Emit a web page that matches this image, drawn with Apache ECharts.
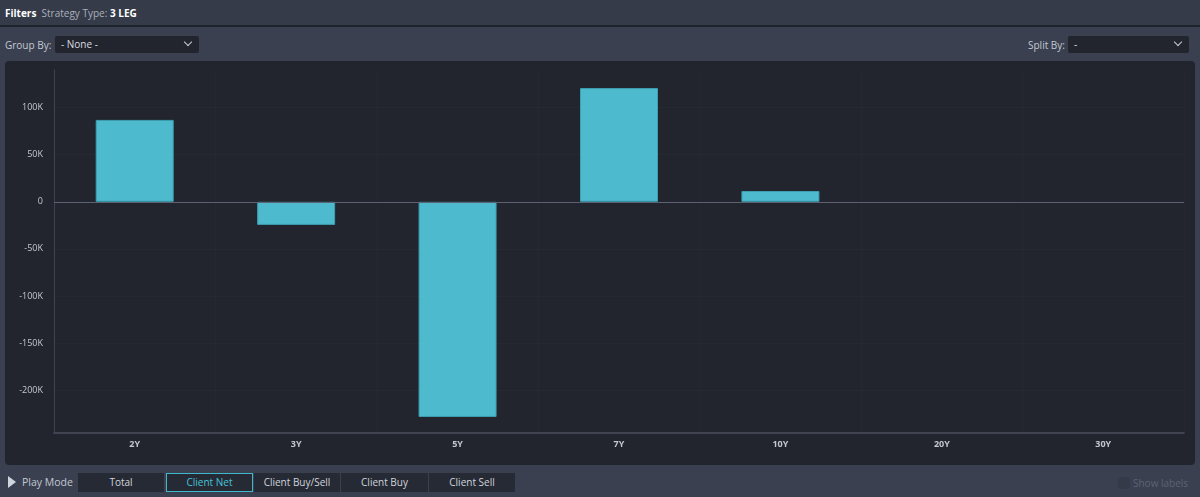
<!DOCTYPE html>
<html><head><meta charset="utf-8">
<script src="https://cdn.jsdelivr.net/npm/echarts@6/dist/echarts.min.js"></script>
<style>
html,body{margin:0;padding:0;width:1200px;height:497px;overflow:hidden;background:#3a4050;font-family:"Open Sans",sans-serif;}
.abs{position:absolute;}
#top{left:0;top:0;width:1200px;height:25px;background:#353b48;border-bottom:2px solid #1f232c;}
#panel{left:5px;top:61px;width:1190px;height:404px;background:#22252e;border-radius:4px;}
.dd{background:#22252e;border-radius:2px;height:17px;color:#d8dbe2;font-size:10px;line-height:17px;box-sizing:border-box;padding-left:6px;}
.chev{position:absolute;right:8px;top:3px;width:5px;height:5px;border-right:1.5px solid #c8ccd4;border-bottom:1.5px solid #c8ccd4;transform:rotate(45deg);}
.lbl{color:#c3c8d2;font-size:10px;}
.btn{top:473px;height:19px;background:#262a34;color:#d0d4dc;font-size:10px;line-height:19px;text-align:center;box-sizing:border-box;}
#chart{left:0;top:0;width:1200px;height:497px;}
</style></head>
<body>
<div id="top" class="abs"></div>
<div class="abs" style="left:5px;top:6px;font-size:10px;color:#fff;"><b>Filters</b> <span style="color:#aab0bc;">&nbsp;Strategy Type:</span> <b>3 LEG</b></div>
<div class="abs lbl" style="left:5px;top:38px;">Group By:</div>
<div class="abs dd" style="left:55px;top:36px;width:144px;">- None -<div class="chev"></div></div>
<div class="abs lbl" style="left:1028px;top:38px;">Split By:</div>
<div class="abs dd" style="left:1068px;top:36px;width:121px;">-<div class="chev"></div></div>
<div id="panel" class="abs"></div>
<div class="abs" style="left:8px;top:476px;width:0;height:0;border-top:6px solid transparent;border-bottom:6px solid transparent;border-left:8px solid #d0d4dc;"></div>
<div class="abs lbl" style="left:22px;top:475px;font-size:10.5px;">Play Mode</div>
<div class="abs btn" style="left:78px;width:86px;">Total</div>
<div class="abs btn" style="left:166px;width:87px;border:1px solid #3fb8cc;color:#45c3d8;line-height:17px;">Client Net</div>
<div class="abs btn" style="left:254px;width:86px;">Client Buy/Sell</div>
<div class="abs btn" style="left:341px;width:87px;">Client Buy</div>
<div class="abs btn" style="left:429px;width:86px;">Client Sell</div>
<div class="abs" style="left:1118px;top:477px;width:12px;height:12px;border-radius:3px;background:#343a48;"></div>
<div class="abs" style="left:1133px;top:476px;font-size:10px;color:#5c6372;">Show labels</div>
<div id="chart" class="abs"></div>
<script>
const categories = ['2Y','3Y','5Y','7Y','10Y','20Y','30Y'];
const clientNet = [87000, -24500, -228500, 120800, 11500, null, null];
const gridTicks = [-200000, -150000, -100000, -50000, 50000, 100000];
const yMin = -245000, yMax = 140000;

const chart = echarts.init(document.getElementById('chart'), null, {renderer:'canvas'});
chart.setOption({
  backgroundColor: 'transparent',
  animation: false,
  grid: {left: 54, right: 16, top: 70, bottom: 64.5, containLabel: false},
  xAxis: {
    type: 'category', data: categories, position: 'bottom',
    axisLine: {show: true, onZero: false, lineStyle: {color: '#4a4f5c', width: 1.5}},
    axisTick: {show: false},
    splitLine: {show: true, lineStyle: {color: 'rgba(255,255,255,0.015)'}},
    axisLabel: {color: '#c3c8d2', fontSize: 9, fontWeight: 'bold', margin: 7, fontFamily: 'Open Sans'}
  },
  yAxis: {
    type: 'value', min: yMin, max: yMax, interval: 5000,
    axisLine: {show: true, lineStyle: {color: '#3e4350'}},
    axisTick: {show: false},
    splitLine: {show: false},
    axisLabel: {
      color: '#c3c8d2', fontSize: 9, margin: 11, fontFamily: 'Open Sans',
      formatter: v => (v % 50000 === 0 && v !== yMin && v !== yMax) ? (v === 0 ? '0' : (v/1000) + 'K') : ''
    }
  },
  series: [{
    type: 'bar', data: clientNet, barWidth: 78,
    itemStyle: {color: '#4dbacd', borderColor: '#3d9fb2', borderWidth: 1},
    markLine: {
      silent: true, symbol: 'none', label: {show: false},
      data: [
        {yAxis: 0, lineStyle: {color: '#5c6272', width: 1.2, type: 'solid'}},
        ...gridTicks.map(t => ({yAxis: t, lineStyle: {color: 'rgba(255,255,255,0.018)', width: 1, type: 'solid'}}))
      ]
    }
  }]
});
</script>
</body></html>
